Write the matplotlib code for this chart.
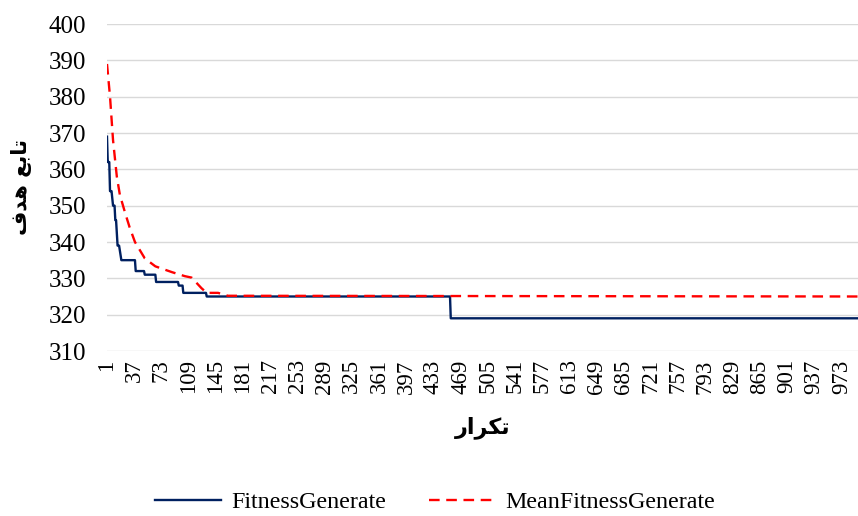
import matplotlib
matplotlib.use("Agg")
import matplotlib.pyplot as plt

# break points of the two curves (iteration, value)
fit_iter = [1, 2, 4, 5, 7, 9, 11, 12, 13, 15, 17, 20, 38, 39, 50, 51, 65, 66,
            95, 96, 101, 102, 132, 133, 455, 456, 1000]
fit_val = [369, 362, 362, 354, 354, 350, 350, 346, 346, 339, 339, 335, 335, 332,
           332, 331, 331, 329, 329, 328, 328, 326, 326, 325, 325, 319, 319]

mean_iter = [1, 5, 9, 14, 18, 25, 31, 38, 51, 65, 87, 104, 113, 126, 133, 148,
             161, 1000]
mean_val = [389, 380, 368, 358, 353, 348, 344, 340, 335.5, 333.3, 331.7, 330.6,
            330.2, 327.3, 326, 326, 325.2, 325]

xticks = list(range(1, 1000, 36))
yticks = list(range(310, 401, 10))

# Persian labels, pre-shaped (presentation forms, visual order)
ylab = "\uFED1\uFEAA\uFEEB \uFECA\uFE91\uFE8E\uFE97"   # تابع هدف
xlab = "\uFEAD\uFE8D\uFEAE\uFB91\uFE97"               # تکرار

plt.rcParams['font.family'] = ['Liberation Serif', 'DejaVu Serif']

fig = plt.figure(figsize=(8.58, 5.16), dpi=100)
ax = fig.add_axes([107/858, 1-351/516, 1-107/858, (351-24)/516])

ax.plot(fit_iter, fit_val, color='#002060', lw=1.7, label='FitnessGenerate')
ax.plot(mean_iter, mean_val, color='#FF0000', lw=1.7, ls=(0, (4.5, 2.8)),
        label='MeanFitnessGenerate')

ax.set_xlim(1, 995)
ax.set_ylim(310, 400)
ax.set_yticks(yticks)
ax.set_xticks(xticks)
ax.set_xticklabels([str(t) for t in xticks], rotation=90, fontsize=16.5)
ax.tick_params(axis='y', labelsize=18, length=0, pad=15)
ax.tick_params(axis='x', length=0, pad=6)
ax.grid(axis='y', color='#D9D9D9', lw=1)
ax.set_axisbelow(True)
for s in ax.spines.values():
    s.set_visible(False)

ax.set_ylabel(ylab, family='DejaVu Sans', fontweight='bold', fontsize=15,
              labelpad=12)
ax.set_xlabel(xlab, family='DejaVu Sans', fontweight='bold', fontsize=16,
              labelpad=16)

fig.legend(loc='center', bbox_to_anchor=(0.507, 0.027), ncol=2,
           frameon=False, fontsize=17.3, handlelength=2.75, columnspacing=1.8,
           handletextpad=0.4, borderpad=0)

fig.savefig('out.png', dpi=100)
